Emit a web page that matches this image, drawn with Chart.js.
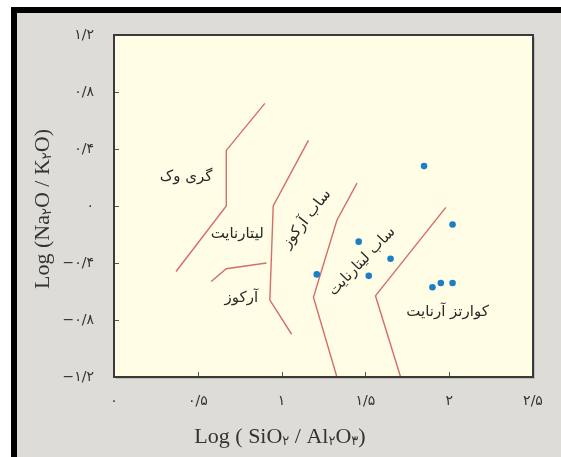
<!DOCTYPE html>
<html>
<head>
<meta charset="utf-8">
<script src="https://cdn.jsdelivr.net/npm/chart.js@4"></script>
<style>
  html, body { margin: 0; padding: 0; background: #fff; }
  #frame {
    position: absolute; left: 11px; top: 7px; width: 544px; height: 444px;
    border-left: 6px solid #000; border-top: 6px solid #000; background: #dddcd7;
  }
  #wrap { position: absolute; left: 0; top: 0; width: 561px; height: 457px; }
</style>
</head>
<body>
<div id="frame"></div>
<div id="wrap"><canvas id="chart" width="561" height="457"></canvas></div>
<script>
// tick values and labels (Persian digits)
var xTickValues = [0, 0.5, 1, 1.5, 2, 2.5];
var xTickLabels = ["۰", "۰/۵", "۱", "۱/۵", "۲", "۲/۵"];
var yTickValues = [-1.2, -0.8, -0.4, 0, 0.4, 0.8, 1.2];
var yTickLabels = ["−۱/۲", "−۰/۸", "−۰/۴", "۰", "۰/۴", "۰/۸", "۱/۲"];

// samples
var sampleX = [1.85, 2.02, 1.46, 1.65, 1.52, 1.21, 1.90, 1.95, 2.02];
var sampleY = [0.28, -0.13, -0.25, -0.37, -0.49, -0.48, -0.57, -0.54, -0.54];

// field boundaries
var line1X = [0.90, 0.67, 0.67, 0.37];
var line1Y = [0.72, 0.39, 0.0, -0.46];
var line2X = [0.58, 0.67, 0.91];
var line2Y = [-0.53, -0.44, -0.40];
var line3X = [1.16, 0.95, 0.93, 1.06];
var line3Y = [0.46, 0.0, -0.66, -0.90];
var line4X = [1.45, 1.33, 1.19, 1.33];
var line4Y = [0.16, -0.10, -0.64, -1.2];
var line5X = [1.98, 1.56, 1.71];
var line5Y = [-0.01, -0.63, -1.2];

// field names
var fieldNames = ["گری وک", "لیتارنایت", "آرکوز", "ساب آرکوز", "ساب لیتارنایت", "کوارتز آرنایت"];
var fieldX = [0.43, 0.735, 0.76, 1.15, 1.48, 1.99];
var fieldY = [0.20, -0.196, -0.646, -0.09, -0.39, -0.744];
var fieldAngle = [0, 0, 0, -52, -46, 0];

function pts(xs, ys) {
  return xs.map(function (x, i) { return { x: x, y: ys[i] }; });
}

function boundary(xs, ys) {
  return {
    type: "line",
    data: pts(xs, ys),
    borderColor: "#d46e68",
    borderWidth: 1.4,
    pointRadius: 0,
    fill: false,
    tension: 0,
  };
}

function drawSubText(ctx, parts, big, small) {
  var total = 0;
  parts.forEach(function (p) {
    ctx.font = (p[1] ? small : big) + "px 'Liberation Serif', 'DejaVu Sans', serif";
    total += ctx.measureText(p[0]).width;
  });
  var x = -total / 2;
  parts.forEach(function (p) {
    ctx.font = (p[1] ? small : big) + "px 'Liberation Serif', 'DejaVu Sans', serif";
    ctx.fillText(p[0], x, p[1] ? 5 : 0);
    x += ctx.measureText(p[0]).width;
  });
}

var decor = {
  id: "decor",
  beforeDraw: function (chart) {
    var a = chart.chartArea, ctx = chart.ctx;
    ctx.save();
    ctx.fillStyle = "rgba(0,0,0,0.15)";
    ctx.fillRect(a.left + 2, a.top + 2, a.right - a.left, a.bottom - a.top);
    ctx.fillStyle = "#fffde6";
    ctx.fillRect(a.left, a.top, a.right - a.left, a.bottom - a.top);
    ctx.restore();
  },
  afterDatasetsDraw: function (chart) {
    var a = chart.chartArea, ctx = chart.ctx;
    var sx = chart.scales.x, sy = chart.scales.y;
    ctx.save();
    // inward tick marks
    ctx.strokeStyle = "#555";
    ctx.lineWidth = 1;
    xTickValues.forEach(function (v) {
      if (v <= 0 || v >= 2.5) return;
      var px = Math.round(sx.getPixelForValue(v)) + 0.5;
      ctx.beginPath(); ctx.moveTo(px, a.bottom); ctx.lineTo(px, a.bottom - 5); ctx.stroke();
    });
    yTickValues.forEach(function (v) {
      if (v <= -1.2 || v >= 1.2) return;
      var py = Math.round(sy.getPixelForValue(v)) + 0.5;
      ctx.beginPath(); ctx.moveTo(a.left, py); ctx.lineTo(a.left + 5, py); ctx.stroke();
    });
    // frame
    ctx.strokeStyle = "#3a3a3a";
    ctx.lineWidth = 2;
    ctx.strokeRect(a.left, a.top, a.right - a.left, a.bottom - a.top);
    // field names
    ctx.fillStyle = "#2a2a2a";
    ctx.font = "15px 'DejaVu Sans', sans-serif";
    ctx.textAlign = "center";
    ctx.textBaseline = "middle";
    fieldNames.forEach(function (t, i) {
      ctx.save();
      ctx.translate(sx.getPixelForValue(fieldX[i]), sy.getPixelForValue(fieldY[i]));
      ctx.rotate(fieldAngle[i] * Math.PI / 180);
      ctx.fillText(t, 0, 0);
      ctx.restore();
    });
    // axis titles
    ctx.fillStyle = "#333";
    ctx.textAlign = "left";
    ctx.textBaseline = "middle";
    ctx.save();
    ctx.translate(280, 437);
    drawSubText(ctx, [["Log ( SiO", 0], ["۲", 1], [" / Al", 0], ["۲", 1], ["O", 0], ["۳", 1], [")", 0]], 22, 13);
    ctx.restore();
    ctx.save();
    ctx.translate(43, 209);
    ctx.rotate(-Math.PI / 2);
    drawSubText(ctx, [["Log (Na", 0], ["۲", 1], ["O / K", 0], ["۲", 1], ["O)", 0]], 22, 13);
    ctx.restore();
    ctx.restore();
  },
};

new Chart(document.getElementById("chart"), {
  type: "scatter",
  data: {
    datasets: [
      {
        label: "samples",
        data: pts(sampleX, sampleY),
        backgroundColor: "#1a7fc4",
        borderWidth: 0,
        pointRadius: 3.3,
      },
      boundary(line1X, line1Y),
      boundary(line2X, line2Y),
      boundary(line3X, line3Y),
      boundary(line4X, line4Y),
      boundary(line5X, line5Y),
    ],
  },
  options: {
    responsive: false,
    animation: false,
    layout: { padding: { left: 0, top: 35, right: 28, bottom: 0 } },
    plugins: { legend: { display: false }, tooltip: { enabled: false } },
    scales: {
      x: {
        type: "linear",
        min: 0,
        max: 2.5,
        afterFit: function (s) { s.height = 80; },
        afterBuildTicks: function (s) {
          s.ticks = xTickValues.map(function (v) { return { value: v }; });
        },
        grid: { display: false },
        border: { display: false },
        ticks: {
          padding: 8,
          color: "#333",
          font: { size: 14, family: "'DejaVu Sans', sans-serif" },
          maxRotation: 0,
          callback: function (v) { return xTickLabels[xTickValues.indexOf(v)]; },
        },
      },
      y: {
        type: "linear",
        min: -1.2,
        max: 1.2,
        afterFit: function (s) { s.width = 114; },
        afterBuildTicks: function (s) {
          s.ticks = yTickValues.map(function (v) { return { value: v }; });
        },
        grid: { display: false },
        border: { display: false },
        ticks: {
          padding: 12,
          color: "#333",
          font: { size: 14, family: "'DejaVu Sans', sans-serif" },
          callback: function (v) {
            var i = yTickValues.findIndex(function (t) { return Math.abs(t - v) < 1e-6; });
            return yTickLabels[i];
          },
        },
      },
    },
  },
  plugins: [decor],
});
</script>
</body>
</html>
